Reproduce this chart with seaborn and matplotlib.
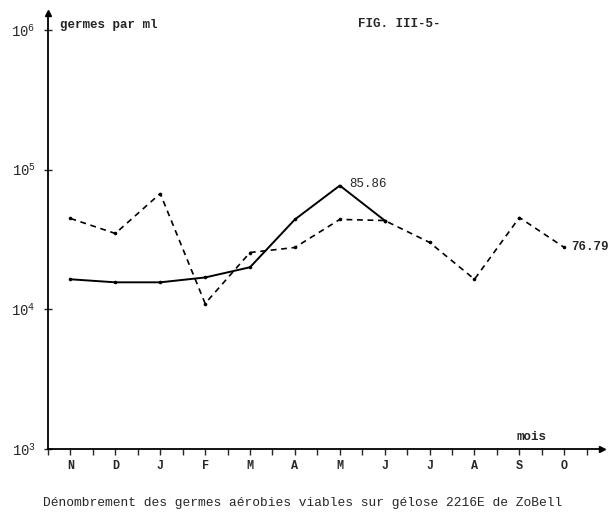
import numpy as np
import pandas as pd
import matplotlib
matplotlib.use("Agg")
import matplotlib.pyplot as plt
import seaborn as sns

# ---- data ----
months = ["N", "D", "J", "F", "M", "A", "M", "J", "J", "A", "S", "O"]
solid_values = [16400, 15600, 15600, 16900, 20000, 44000, 76900, 43200]
dashed_values = [44700, 34900, 67400, 11000, 25500, 27700, 44000, 43200,
                 30100, 16400, 45400, 27700]
solid_label = "85.86"
dashed_label = "76.79"
ytick_values = [1e3, 1e4, 1e5, 1e6]
ytick_labels = [r"$\mathregular{10^{3}}$", r"$\mathregular{10^{4}}$",
                r"$\mathregular{10^{5}}$", r"$\mathregular{10^{6}}$"]
y_title = "germes par ml"
fig_title = "FIG. III-5-"
x_title = "mois"
caption = "Dénombrement des germes aérobies viables sur gélose 2216E de ZoBell"

sns.set_style("ticks")
plt.rcParams["font.family"] = ["Liberation Mono", "DejaVu Sans Mono"]
plt.rcParams["mathtext.fontset"] = "custom"
plt.rcParams["mathtext.rm"] = "Liberation Mono"

fig = plt.figure(figsize=(6.08, 5.19), dpi=100)
ax = fig.add_axes([48/608, 70/519, (602-48)/608, (449-13)/519])

df_solid = pd.DataFrame({"pos": np.arange(len(solid_values)), "val": solid_values})
df_dash = pd.DataFrame({"pos": np.arange(len(dashed_values)), "val": dashed_values})

sns.lineplot(data=df_solid, x="pos", y="val", ax=ax, color="black", lw=1.4,
             marker="o", markersize=2.6, markeredgewidth=0)
sns.lineplot(data=df_dash, x="pos", y="val", ax=ax, color="black", lw=1.2,
             linestyle=(0, (3.5, 2.8)), marker="o", markersize=2.6,
             markeredgewidth=0)

ax.set_yscale("log")
ax.set_ylim(1e3, 10 ** 6.121)
ax.set_xlim(-0.5, 11.84)

ax.set_yticks(ytick_values)
ax.set_yticklabels(ytick_labels, fontsize=10)
ax.yaxis.set_minor_locator(matplotlib.ticker.NullLocator())
ax.tick_params(axis="y", direction="inout", length=6, width=1, pad=6)

ax.set_xticks(np.arange(len(months)))
ax.set_xticklabels(months, fontsize=8.5, fontweight="bold")
ax.set_xticks(np.arange(-0.5, len(months), 1.0), minor=True)
ax.tick_params(axis="x", which="both", direction="out", length=4, width=1, pad=4)

for s in ["top", "right"]:
    ax.spines[s].set_visible(False)
for s in ["left", "bottom"]:
    ax.spines[s].set_linewidth(1.3)
    ax.spines[s].set_color("black")

# arrow heads at axis ends
ax.plot(1, 0, marker=">", color="black", markersize=5, transform=ax.transAxes, clip_on=False)
ax.plot(0, 1, marker="^", color="black", markersize=5, transform=ax.transAxes, clip_on=False)

ax.set_xlabel("")
ax.set_ylabel("")

# annotations
ax.annotate(solid_label, xy=(int(np.argmax(solid_values)), max(solid_values)),
            xytext=(7, 1), textcoords="offset points", va="center", fontsize=9)
ax.annotate(dashed_label, xy=(len(dashed_values) - 1, dashed_values[-1]),
            xytext=(5, 0), textcoords="offset points", va="center", fontsize=9,
            fontweight="bold")

fig.text(60/608, 1 - 25/519, y_title, fontsize=9, fontweight="bold", va="center", ha="left")
fig.text(358/608, 1 - 24/519, fig_title, fontsize=9, fontweight="bold", va="center", ha="left")
fig.text(517/608, 1 - 437/519, x_title, fontsize=9, fontweight="bold", va="center", ha="left")
fig.text(303/608, 1 - 503/519, caption, fontsize=9.3, va="center", ha="center")

fig.savefig("out.png", dpi=100, facecolor="white")
